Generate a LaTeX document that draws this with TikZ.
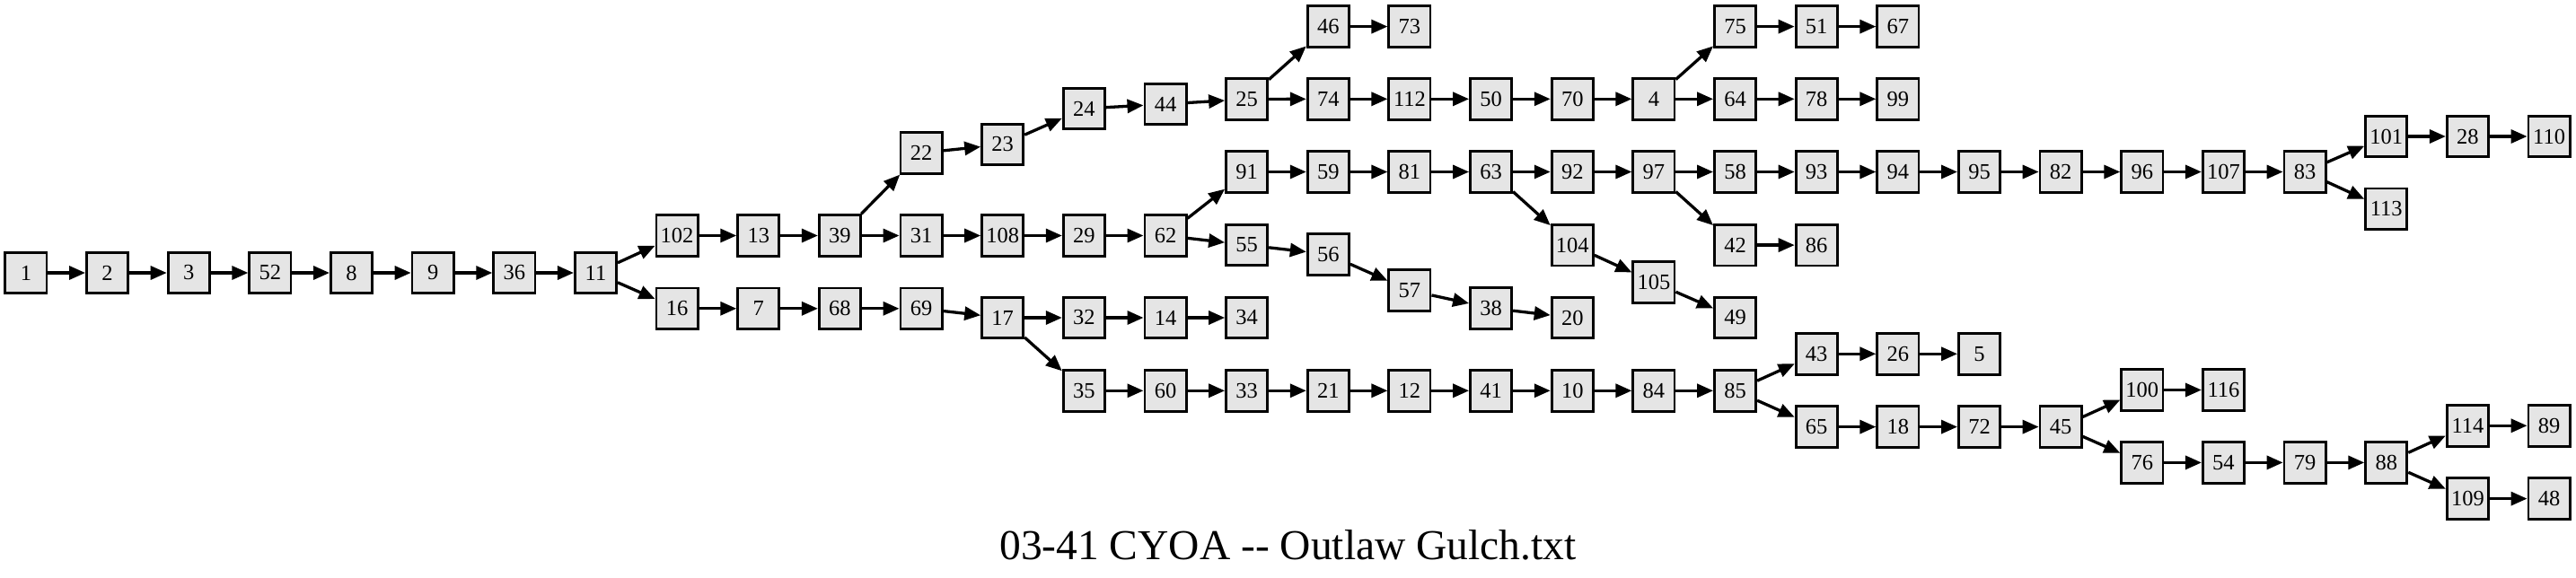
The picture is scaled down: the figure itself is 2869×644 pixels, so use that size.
\documentclass[tikz,border=0pt]{standalone}
\usepackage{fontspec}
\setmainfont{Liberation Serif}
\usetikzlibrary{arrows.meta}
\definecolor{nodefill}{HTML}{E5E5E5}
\newcommand{\gnode}[4]{\node[nb] (n#1) at ({28.9+90.65*#2},#3) {#4};}
\begin{document}
\begin{tikzpicture}[x=1pt,y=-1pt,
  nb/.style={draw=black,fill=nodefill,line width=2.8pt,rectangle,minimum width=46.2pt,minimum height=45.7pt,inner sep=0pt,font=\fontsize{24.5}{29}\selectfont},
  edge/.style={line width=3.3pt,-{Triangle[length=18pt,width=15pt]}}]
\useasboundingbox (0,0) rectangle (2869,644);
% rank 0-7
\gnode{1}{0}{304}{1}
\gnode{2}{1}{304}{2}
\gnode{3}{2}{304}{3}
\gnode{52}{3}{304}{52}
\gnode{8}{4}{304}{8}
\gnode{9}{5}{304}{9}
\gnode{36}{6}{304}{36}
\gnode{11}{7}{304}{11}
% rank 8
\gnode{102}{8}{262.5}{102}
\gnode{16}{8}{343.8}{16}
% rank 9
\gnode{13}{9}{262.5}{13}
\gnode{7}{9}{343.8}{7}
% rank 10
\gnode{39}{10}{262.5}{39}
\gnode{68}{10}{343.8}{68}
% rank 11
\gnode{22}{11}{170.4}{22}
\gnode{31}{11}{262.5}{31}
\gnode{69}{11}{343.8}{69}
% rank 12
\gnode{23}{12}{161}{23}
\gnode{108}{12}{262.5}{108}
\gnode{17}{12}{354}{17}
% rank 13
\gnode{24}{13}{121}{24}
\gnode{29}{13}{262.5}{29}
\gnode{32}{13}{354}{32}
\gnode{35}{13}{435.3}{35}
% rank 14
\gnode{44}{14}{116}{44}
\gnode{62}{14}{262.5}{62}
\gnode{14}{14}{354}{14}
\gnode{60}{14}{435.3}{60}
% rank 15
\gnode{25}{15}{110.5}{25}
\gnode{91}{15}{191.5}{91}
\gnode{55}{15}{273}{55}
\gnode{34}{15}{354}{34}
\gnode{33}{15}{435.3}{33}
% rank 16
\gnode{46}{16}{29.6}{46}
\gnode{74}{16}{110.3}{74}
\gnode{59}{16}{191.5}{59}
\gnode{56}{16}{283.4}{56}
\gnode{21}{16}{435.3}{21}
% rank 17
\gnode{73}{17}{29.6}{73}
\gnode{112}{17}{110.3}{112}
\gnode{81}{17}{191.5}{81}
\gnode{57}{17}{323.6}{57}
\gnode{12}{17}{435.3}{12}
% rank 18
\gnode{50}{18}{110.3}{50}
\gnode{63}{18}{191.5}{63}
\gnode{38}{18}{343.3}{38}
\gnode{41}{18}{435.3}{41}
% rank 19
\gnode{70}{19}{110.3}{70}
\gnode{92}{19}{191.5}{92}
\gnode{104}{19}{273.1}{104}
\gnode{20}{19}{354}{20}
\gnode{10}{19}{435.3}{10}
% rank 20
\gnode{4}{20}{110.3}{4}
\gnode{97}{20}{191.5}{97}
\gnode{105}{20}{314.6}{105}
\gnode{84}{20}{435.3}{84}
% rank 21
\gnode{75}{21}{29.6}{75}
\gnode{64}{21}{110.3}{64}
\gnode{58}{21}{191.5}{58}
\gnode{42}{21}{273.1}{42}
\gnode{49}{21}{354}{49}
\gnode{85}{21}{435.3}{85}
% rank 22
\gnode{51}{22}{29.6}{51}
\gnode{78}{22}{110.3}{78}
\gnode{93}{22}{191.5}{93}
\gnode{86}{22}{273.1}{86}
\gnode{43}{22}{394.3}{43}
\gnode{65}{22}{475.6}{65}
% rank 23
\gnode{67}{23}{29.6}{67}
\gnode{99}{23}{110.3}{99}
\gnode{94}{23}{191.5}{94}
\gnode{26}{23}{394.3}{26}
\gnode{18}{23}{475.6}{18}
% rank 24
\gnode{95}{24}{191.5}{95}
\gnode{5}{24}{394.3}{5}
\gnode{72}{24}{475.6}{72}
% rank 25
\gnode{82}{25}{191.5}{82}
\gnode{45}{25}{475.6}{45}
% rank 26
\gnode{96}{26}{191.5}{96}
\gnode{100}{26}{434.5}{100}
\gnode{76}{26}{515.4}{76}
% rank 27
\gnode{107}{27}{191.5}{107}
\gnode{116}{27}{434.5}{116}
\gnode{54}{27}{515.4}{54}
% rank 28
\gnode{83}{28}{191.5}{83}
\gnode{79}{28}{515.4}{79}
% rank 29
\gnode{101}{29}{152}{101}
\gnode{113}{29}{232.9}{113}
\gnode{88}{29}{515.4}{88}
% rank 30
\gnode{28}{30}{152}{28}
\gnode{114}{30}{474.3}{114}
\gnode{109}{30}{555.6}{109}
% rank 31
\gnode{110}{31}{152}{110}
\gnode{89}{31}{474.3}{89}
\gnode{48}{31}{555.6}{48}
% edges
\foreach \a/\b in {1/2,2/3,3/52,52/8,8/9,9/36,36/11,11/102,11/16,102/13,13/39,39/22,39/31,
  22/23,23/24,24/44,44/25,25/46,25/74,46/73,74/112,112/50,50/70,70/4,4/75,4/64,75/51,51/67,
  64/78,78/99,31/108,108/29,29/62,62/91,62/55,91/59,59/81,81/63,63/92,63/104,92/97,97/58,
  97/42,58/93,93/94,94/95,95/82,82/96,96/107,107/83,83/101,83/113,101/28,28/110,42/86,
  104/105,105/49,55/56,56/57,57/38,38/20,16/7,7/68,68/69,69/17,17/32,17/35,32/14,14/34,
  35/60,60/33,33/21,21/12,12/41,41/10,10/84,84/85,85/43,85/65,43/26,26/5,65/18,18/72,
  72/45,45/100,45/76,100/116,76/54,54/79,79/88,88/114,88/109,114/89,109/48}
  \draw[edge] (n\a) -- (n\b);
% title
\node[anchor=base,inner sep=0pt,font=\fontsize{47.5}{56}\selectfont] (title) at (1434.5,623) {03-41 CYOA -{}- Outlaw Gulch.txt};
\end{tikzpicture}
\end{document}
